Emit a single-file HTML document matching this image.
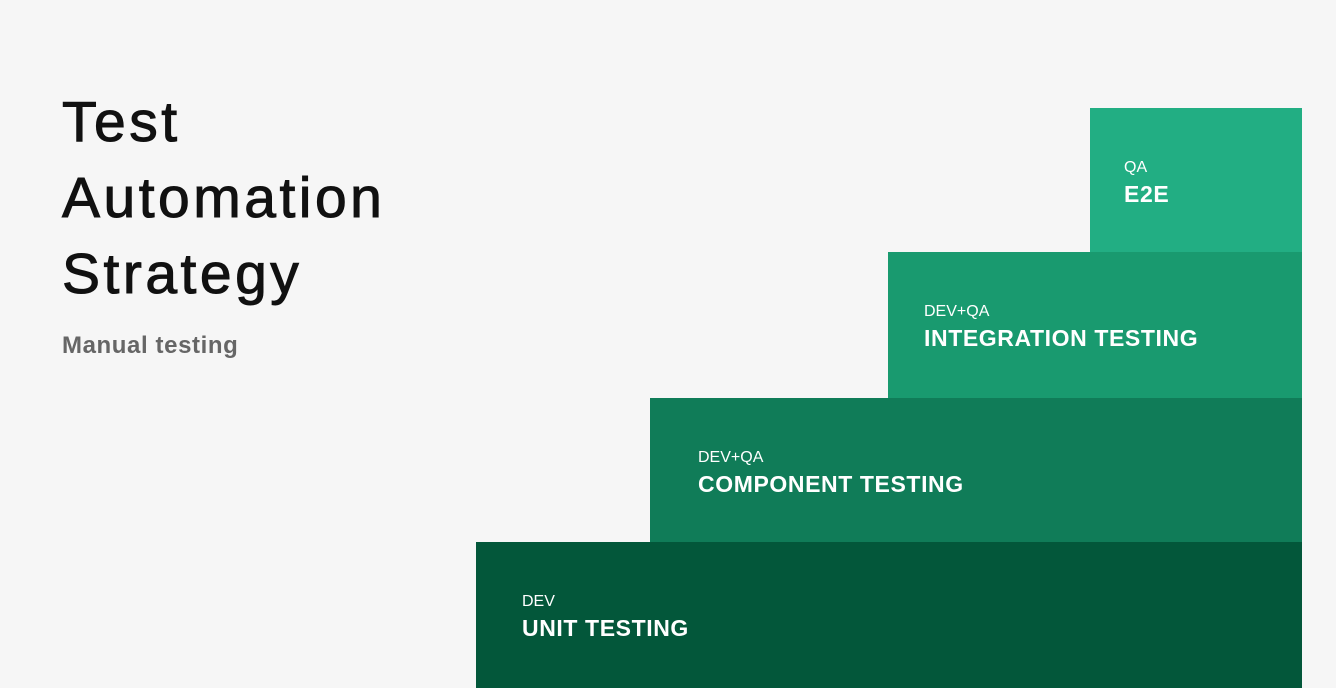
<!DOCTYPE html>
<html><head><style>
body{margin:0;width:1336px;height:688px;background:#f6f6f6;position:relative;overflow:hidden;font-family:"Liberation Sans",sans-serif}
.t{position:absolute;left:62px;font-size:57px;line-height:76px;color:#111;letter-spacing:3.5px;-webkit-text-stroke:1px #111;top:84px}
.sub{position:absolute;left:62px;top:332px;font-size:24px;font-weight:bold;color:#666;letter-spacing:0.6px}
.b{position:absolute;color:#fff}
.b .s{position:absolute;font-size:16px;white-space:nowrap;top:51px}
.b .l{position:absolute;font-size:23px;font-weight:bold;white-space:nowrap;letter-spacing:0.6px;top:73px}
</style></head><body>
<div class="t">Test<br>Automation<br>Strategy</div>
<div class="sub">Manual testing</div>
<div class="b" style="left:1090px;top:108px;width:212px;height:144px;background:#22ae83"><div class="s" style="left:34px">QA</div><div class="l" style="left:34px">E2E</div></div>
<div class="b" style="left:888px;top:252px;width:414px;height:146px;background:#199a6f"><div class="s" style="left:36px">DEV+QA</div><div class="l" style="left:36px">INTEGRATION TESTING</div></div>
<div class="b" style="left:650px;top:398px;width:652px;height:144px;background:#107c58"><div class="s" style="left:48px">DEV+QA</div><div class="l" style="left:48px">COMPONENT TESTING</div></div>
<div class="b" style="left:476px;top:542px;width:826px;height:146px;background:#03573a"><div class="s" style="left:46px">DEV</div><div class="l" style="left:46px">UNIT TESTING</div></div>
</body></html>
